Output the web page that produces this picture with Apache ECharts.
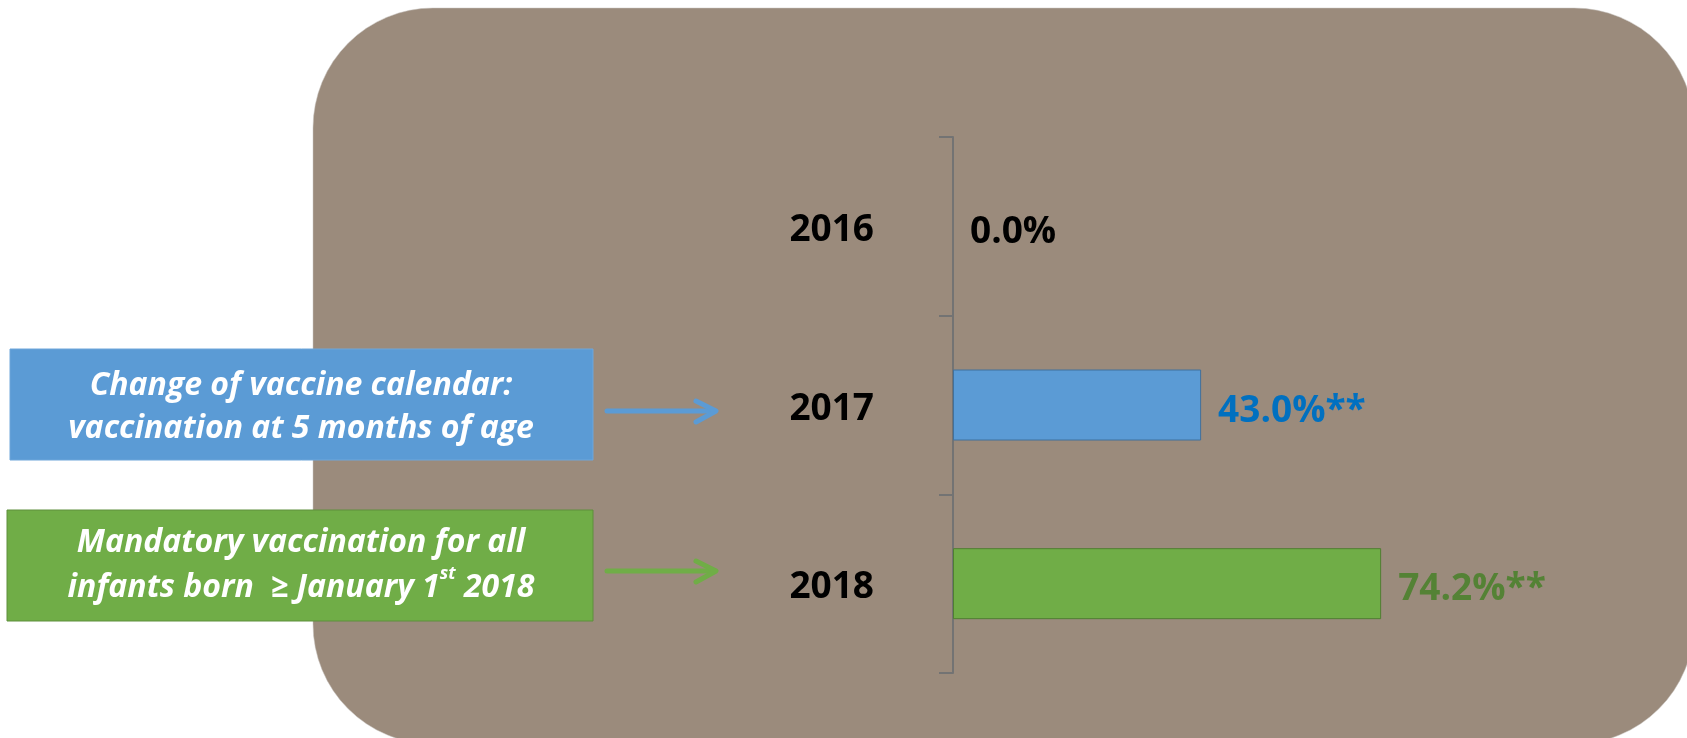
<!DOCTYPE html>
<html>
<head>
<meta charset="utf-8">
<title>Vaccination coverage</title>
<script src="https://cdn.jsdelivr.net/npm/echarts@6/dist/echarts.min.js"></script>
<style>
  html, body { margin: 0; padding: 0; background: #ffffff; }
  #main { width: 1687px; height: 738px; }
</style>
</head>
<body>
<div id="main"></div>
<script>
// data
var years = ['2016', '2017', '2018'];
var coverage = [0.0, 43.0, 74.2];
var valueLabels = ['0.0%', '43.0%**', '74.2%**'];
var noteBlue = ['Change of vaccine calendar:', 'vaccination at 5 months of age'];
var noteGreen = ['Mandatory vaccination for all', 'infants born  \u2265 January 1', 'st', ' 2018'];

// styles
var barFill = ['#5B9BD5', '#5B9BD5', '#70AD47'];
var barEdge = ['#5B9BD5', '#41719C', '#507E32'];
var labelInk = ['#000000', '#0070C0', '#548235'];
var font = '"Open Sans", "Noto Sans", sans-serif';

var chart = echarts.init(document.getElementById('main'));

var barData = [];
for (var i = 0; i < coverage.length; i++) {
  barData.push({
    value: coverage[i],
    itemStyle: { color: barFill[i], borderColor: barEdge[i], borderWidth: coverage[i] > 0 ? 1 : 0 },
    label: { color: labelInk[i] }
  });
}

function arrow(y, color) {
  return [
    { type: 'polyline', z: 100, shape: { points: [[607, y], [715, y]] },
      style: { stroke: color, lineWidth: 5, lineCap: 'round', fill: null } },
    { type: 'polyline', z: 100, shape: { points: [[696, y - 10], [716, y], [696, y + 11]] },
      style: { stroke: color, lineWidth: 5, lineCap: 'round', lineJoin: 'round', fill: null } }
  ];
}

var option = {
  backgroundColor: '#ffffff',
  animation: false,
  grid: { left: 953, top: 137, width: 577, height: 536, containLabel: false },
  xAxis: {
    type: 'value', min: 0, max: 100, show: false
  },
  yAxis: {
    type: 'category',
    inverse: true,
    data: years,
    axisLine: { show: true, lineStyle: { color: '#737373', width: 2 } },
    axisTick: { show: true, length: 14, lineStyle: { color: '#737373', width: 2 } },
    axisLabel: {
      margin: 79,
      formatter: '{y|{value}}',
      rich: {
        y: { color: '#000000', fontFamily: font, fontWeight: 'bold', fontSize: 37, padding: [8, 0, 0, 0] }
      }
    },
    splitLine: { show: false }
  },
  series: [{
    type: 'bar',
    barWidth: 71,
    data: barData,
    label: {
      show: true,
      position: 'right',
      distance: 17,
      offset: [0, 6],
      fontFamily: font,
      fontWeight: 'bold',
      fontSize: 37,
      formatter: function (p) { return valueLabels[p.dataIndex]; }
    }
  }],
  graphic: {
    elements: [
      { type: 'rect', z: -100, shape: { x: 313, y: 8, width: 1381, height: 736, r: 120 },
        style: { fill: '#9B8B7C', stroke: '#c8c4c0', lineWidth: 0.5 } },
      { type: 'rect', z: 100, shape: { x: 10, y: 349, width: 583, height: 111 },
        style: { fill: '#5B9BD5', stroke: '#6ea6da', lineWidth: 1 } },
      { type: 'rect', z: 100, shape: { x: 7, y: 510, width: 586, height: 111 },
        style: { fill: '#70AD47', stroke: '#5f8f3d', lineWidth: 1 } },
      { type: 'text', z: 101, x: 301, y: 407,
        style: {
          text: noteBlue.join('\n'),
          fill: '#ffffff', font: 'italic bold 32px ' + font,
          align: 'center', verticalAlign: 'middle', lineHeight: 43
        } },
      { type: 'text', z: 101, x: 301, y: 565,
        style: {
          text: '{t|' + noteGreen[0] + '}\n{t|' + noteGreen[1] + '}{s|' + noteGreen[2] + '}{t|' + noteGreen[3] + '}',
          align: 'center', verticalAlign: 'middle',
          rich: {
            t: { fill: '#ffffff', fontFamily: font, fontStyle: 'italic', fontWeight: 'bold', fontSize: 32, lineHeight: 45 },
            s: { fill: '#ffffff', fontFamily: font, fontStyle: 'italic', fontWeight: 'bold', fontSize: 18, lineHeight: 45, verticalAlign: 'top', padding: [0, 0, 14, 0] }
          }
        } }
    ].concat(arrow(411, '#5B9BD5')).concat(arrow(571, '#70AD47'))
  }
};

chart.setOption(option);
</script>
</body>
</html>
